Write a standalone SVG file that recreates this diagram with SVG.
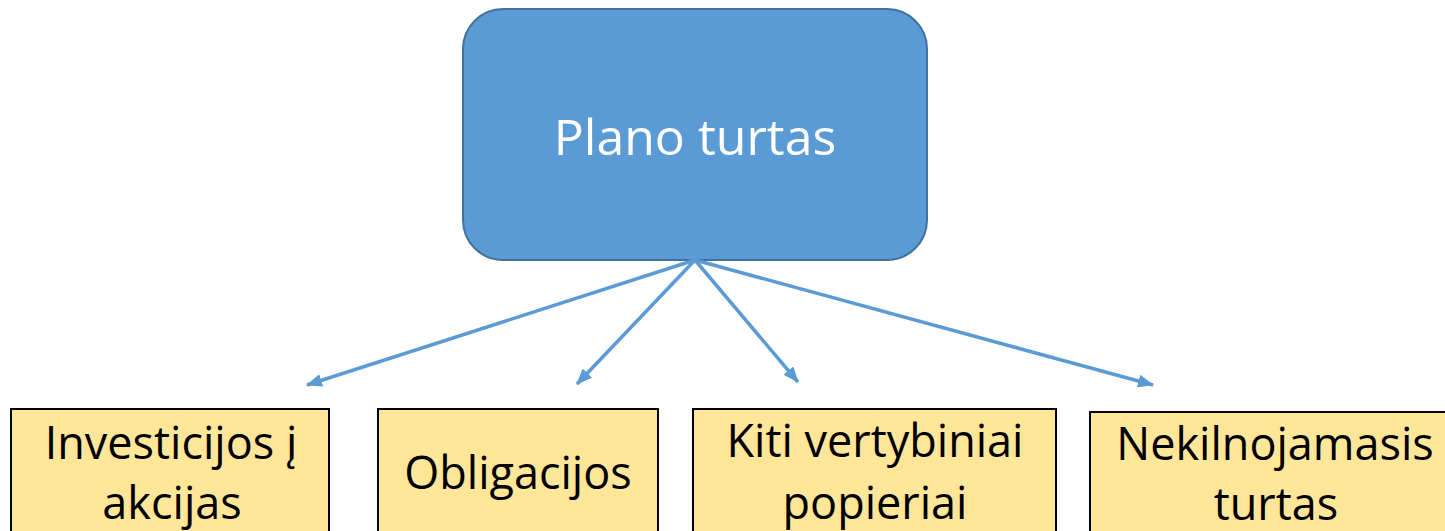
<svg xmlns="http://www.w3.org/2000/svg" width="1445" height="531" viewBox="0 0 1445 531">
<style>
.leaf rect{fill:#FFE699;stroke:#000;stroke-width:2}
.leaf text{font-family:"Open Sans","Liberation Sans",sans-serif;font-size:45px;fill:#000;text-anchor:middle}
.conn line{stroke:#5B9BD5;stroke-width:3.5;marker-end:url(#ah)}
</style>
<defs>
<marker id="ah" markerUnits="userSpaceOnUse" markerWidth="16" markerHeight="13" refX="15" refY="6.5" orient="auto">
<path d="M0,0 L16,6.5 L0,13 z" fill="#5B9BD5"/>
</marker>
</defs>
<g id="root">
<rect x="463" y="9" width="464" height="251" rx="40" ry="40" fill="#5B9BD5" stroke="#41719C" stroke-width="2"/>
<text x="695" y="155" font-family="'Open Sans','Liberation Sans',sans-serif" font-size="50" fill="#fff" text-anchor="middle">Plano turtas</text>
</g>
<g id="connectors" class="conn">
<line x1="695" y1="260" x2="307" y2="385"/>
<line x1="695" y1="260" x2="577" y2="384"/>
<line x1="695" y1="260" x2="798" y2="382"/>
<line x1="695" y1="260" x2="1153" y2="385"/>
</g>
<g id="n1" class="leaf">
<rect x="11" y="409" width="318" height="130"/>
<text x="171" y="459">Investicijos į</text>
<text x="172" y="519">akcijas</text>
</g>
<g id="n2" class="leaf">
<rect x="378" y="409" width="280" height="130"/>
<text x="518" y="489">Obligacijos</text>
</g>
<g id="n3" class="leaf">
<rect x="693" y="409" width="363" height="130"/>
<text x="875" y="457">Kiti vertybiniai</text>
<text x="875" y="519">popieriai</text>
</g>
<g id="n4" class="leaf">
<rect x="1090" y="412" width="370" height="130"/>
<text x="1275" y="460">Nekilnojamasis</text>
<text x="1276" y="520">turtas</text>
</g>
</svg>
